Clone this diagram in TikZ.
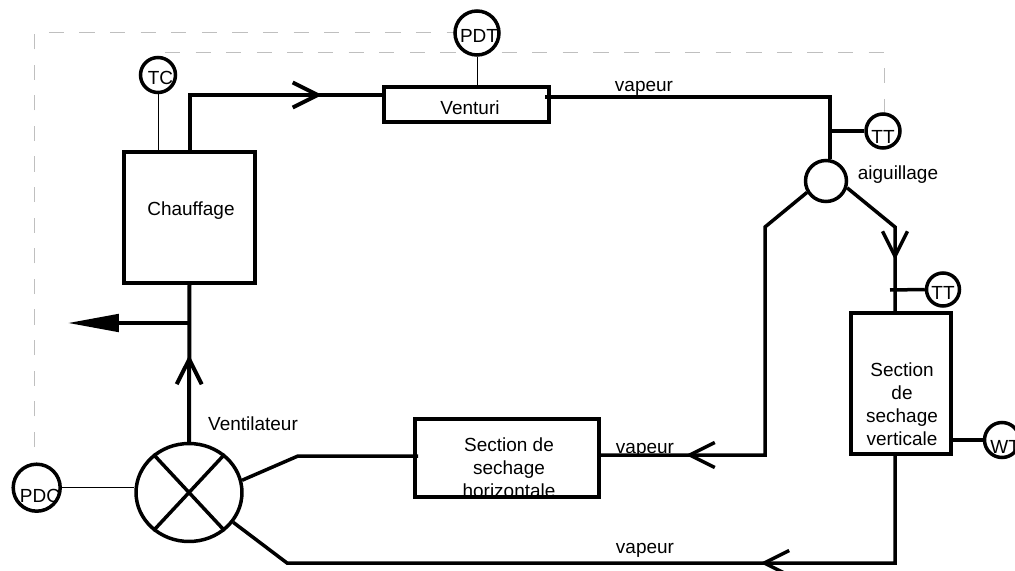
\documentclass[tikz,border=0pt]{standalone}
\usepackage{fontspec}
\setmainfont{Liberation Sans}
\usetikzlibrary{arrows.meta,decorations.markings}
\usetikzlibrary{shapes.geometric}
\begin{document}
\begin{tikzpicture}
	[
	x=0.02cm, y=-0.02cm,
	every node/.style={font=\fontsize{10.8}{13.1}\selectfont},
	pipe/.style = {line width=0.07cm},
	heavy pipe/.style = {line width=0.08cm},
	signal/.style = {line width=0.02cm},
	link/.style = {line width=0.02cm, draw=black!25, dash pattern=on 0.305cm off 0.307cm},
	unit/.style = {draw, line width=0.07cm, fill=white, inner sep=0pt},
	gauge/.style = {draw, circle, line width=0.07cm, fill=white, inner sep=0pt, minimum size=#1},
	caption/.style = {inner sep=0pt, anchor=base},
	arrow inside/.style = {postaction=decorate,decoration={markings,mark=at position #1 with \arrow{Straight Barb[length=0.5cm,width=0.5cm]}}}
	]
	\useasboundingbox (0,0) rectangle (1015,571);

	% dashed signal lines stay behind everything
	\coordinate (outerend) at (34.5,447);
	\coordinate (outercorner) at (34.5,33);
	\coordinate (outerstart) at (455,33);
	\coordinate (innerstart) at (165,53);
	\coordinate (innercorner) at (884,53);
	\coordinate (innerend) at (884,113);
	\draw[link] (outerend) -- (outercorner) -- (outerstart);
	\draw[link] (innerstart) -- (innercorner) -- (innerend);

	\node[unit, minimum width=2.62cm, minimum height=2.62cm] (chauffage) at (189.5,217.5) {};
	\node[unit, minimum width=3.3cm, minimum height=0.7cm] (venturi) at (466.5,104.5) {};
	\node[unit, minimum width=3.68cm, minimum height=1.56cm] (horizontale) at (507,458) {};
	\node[unit, minimum width=2cm, minimum height=2.82cm] (verticale) at (901,383.5) {};
	\node[unit, ellipse, minimum width=2.12cm, minimum height=1.96cm] (ventilateur) at (189,492.5) {};
	\node[gauge=0.82cm] (aiguillage) at (826,181) {};

	\node[gauge=0.7cm] (tc) at (158,75) {};
	\node[gauge=0.88cm] (pdt) at (477,33) {};
	\node[gauge=0.68cm] (tthaut) at (883,131) {};
	\node[gauge=0.66cm] (ttbas) at (943,289.5) {};
	\node[gauge=0.7cm] (wt) at (1002,440) {};
	\node[gauge=0.94cm] (pdc) at (36.7,487.7) {};

	% pipe corners
	\coordinate (ventin) at (chauffage.north |- 0,95);
	\coordinate (venturiin) at (384,95);
	\coordinate (venturiout) at (545,97);
	\coordinate (coude) at (830,97);
	\coordinate (gauche) at (765,227);
	\coordinate (gauchebas) at (765,455);
	\coordinate (droite) at (895,227);
	\coordinate (basdroite) at (895,563);
	\coordinate (basgauche) at (287,563);
	\coordinate (retour) at (298,456);
	\coordinate (retourfin) at (418,456);
	\coordinate (purge) at (189,323);
	\coordinate (purgetip) at (68,323);
	\coordinate (piquage) at (890,290);

	\draw[heavy pipe, arrow inside=3.76cm] (chauffage.north) -- (ventin) -- (venturiin);
	\draw[pipe] (venturiout) -- (coude) -- (coude |- aiguillage.north);
	\draw[pipe, arrow inside=7.23cm] (aiguillage.211) -- (gauche) -- (gauchebas) -- (horizontale.east |- gauchebas);
	\draw[pipe, arrow inside=1.9cm] (aiguillage.-18) -- (droite) -- (droite |- verticale.north);
	\draw[pipe, arrow inside=4.84cm] (droite |- verticale.south) -- (basdroite) -- (basgauche) -- (ventilateur.-34);
	\draw[pipe] (ventilateur.13) -- (retour) -- (retourfin);
	\draw[heavy pipe, arrow inside=1.74cm] (ventilateur.north) -- (chauffage.south);
	\draw[pipe, -{Triangle[length=1.02cm,width=0.35cm]}] (purge) -- (purgetip);

	\draw[pipe] (ventilateur.133) -- (ventilateur.313);
	\draw[pipe] (ventilateur.47) -- (ventilateur.227);

	\draw[signal] (tc) -- (tc |- chauffage.north);
	\draw[signal] (pdt) -- (pdt |- venturi.north);
	\draw[signal] (pdc.east) -- (pdc.east -| ventilateur.west);
	\draw[pipe] (coude |- tthaut) -- (tthaut.west);
	\draw[pipe] (piquage) -- (ttbas.west);
	\draw[pipe] (verticale.east |- wt) -- (wt.west);

	\node[caption] (labelchauffage) at (191,215) {Chauffage};
	\node[caption] (labelventuri) at (470,115) {Venturi};
	\node[caption] (labelventilateur) at (253,430) {Ventilateur};
	\node[caption] (labelaiguillage) at (898,179) {aiguillage};
	\node[caption] (vapeurhaut) at (644,92) {vapeur};
	\node[caption] (vapeurmilieu) at (645,453) {vapeur};
	\node[caption] (vapeurbas) at (645,553) {vapeur};
	\node[inner sep=0pt, align=center] (labelhorizontale) at (509,467.5) {Section de\\sechage\\horizontale};
	\node[inner sep=0pt, align=center] (labelverticale) at (902,404) {Section\\de\\sechage\\verticale};
	\node[caption] (labeltc) at (160.5,85) {TC};
	\node[caption] (labelpdt) at (479,43) {PDT};
	\node[caption] (labeltthaut) at (883,144) {TT};
	\node[caption] (labelttbas) at (943,299) {TT};
	\node[caption, anchor=base west] (labelwt) at (990,453) {WT};
	\node[caption] (labelpdc) at (40,502) {PDC};
\end{tikzpicture}
\end{document}
